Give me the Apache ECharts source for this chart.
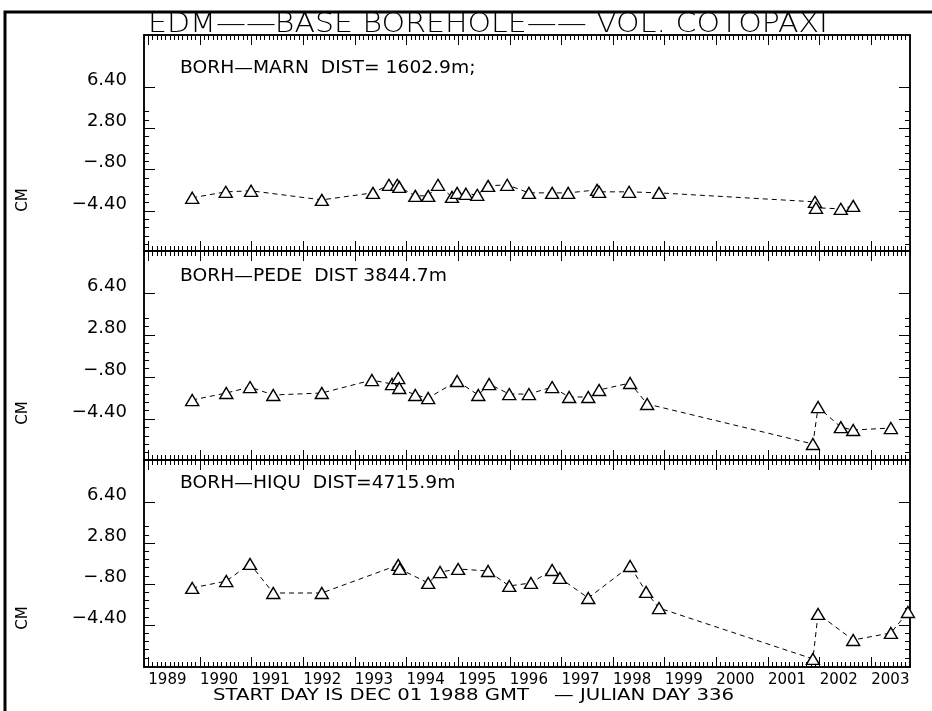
<!DOCTYPE html>
<html>
<head>
    <title>EDM - BASE BOREHOLE - VOL. COTOPAXI</title>
    <meta charset="utf-8"/>
    <script src="https://cdn.jsdelivr.net/npm/echarts@6/dist/echarts.min.js"></script>
</head>
<body style="margin:0;background:#fff">
    <div id="myChart" style="width:932px;height:711px"></div>
<script type="text/javascript">
    // x values are decimal years, the axis starts on DEC 01 1988
    var yearLabels = ['1989', '1990', '1991', '1992', '1993', '1994', '1995', '1996',
        '1997', '1998', '1999', '2000', '2001', '2002', '2003'];
    var yTickValues = [-4.4, -0.8, 2.8, 6.4];
    var yTickLabels = ['\u22124.40', '\u2212.80', '2.80', '6.40'];

    // BORH-MARN
    var marnYears = [1989.85, 1990.50, 1990.99, 1992.36, 1993.35, 1993.66, 1993.82, 1993.86,
        1994.17, 1994.42, 1994.61, 1994.88, 1994.98, 1995.15, 1995.37, 1995.58, 1995.95,
        1996.37, 1996.82, 1997.13, 1997.69, 1997.73, 1998.31, 1998.89, 2001.91, 2001.93,
        2002.41, 2002.65];
    var marnCm = [-3.25, -2.73, -2.64, -3.43, -2.82, -2.12, -2.12, -2.30,
        -3.08, -3.08, -2.12, -3.17, -2.82, -2.90, -2.99, -2.21, -2.12,
        -2.82, -2.82, -2.82, -2.56, -2.73, -2.73, -2.82, -3.60, -4.12,
        -4.21, -3.95];

    // BORH-PEDE
    var pedeYears = [1989.85, 1990.51, 1990.97, 1991.42, 1992.36, 1993.33, 1993.72, 1993.84,
        1993.86, 1994.17, 1994.42, 1994.98, 1995.39, 1995.60, 1995.99, 1996.37, 1996.82,
        1997.15, 1997.52, 1997.73, 1998.33, 1998.66, 2001.87, 2001.97, 2002.41, 2002.65,
        2003.38];
    var pedeCm = [-2.77, -2.17, -1.66, -2.34, -2.17, -1.06, -1.40, -0.89,
        -1.74, -2.34, -2.60, -1.14, -2.34, -1.40, -2.26, -2.26, -1.66,
        -2.51, -2.51, -1.91, -1.31, -3.11, -6.54, -3.37, -5.09, -5.34,
        -5.17];

    // BORH-HIQU
    var hiquYears = [1989.85, 1990.51, 1990.97, 1991.42, 1992.36, 1993.84, 1993.87, 1994.42,
        1994.65, 1995.00, 1995.58, 1995.99, 1996.41, 1996.82, 1996.97, 1997.52, 1998.33,
        1998.64, 1998.89, 2001.87, 2001.97, 2002.65, 2003.38, 2003.71];
    var hiquCm = [-1.15, -0.54, 0.96, -1.59, -1.59, 0.87, 0.52, -0.71,
        0.25, 0.52, 0.34, -0.97, -0.71, 0.43, -0.27, -2.03, 0.78,
        -1.50, -2.91, -7.38, -3.43, -5.72, -5.10, -3.26];

    var panelTitles = ['BORH\u2014MARN  DIST= 1602.9m;', 'BORH\u2014PEDE  DIST 3844.7m',
        'BORH\u2014HIQU  DIST=4715.9m'];

    var X_MIN = 1988 + 11 / 12, X_MAX = 2003.75;
    var layout = [
        {top: 35, height: 216, min: -7.88, max: 10.92, textY: 69, cmY: 200},
        {top: 251, height: 209, min: -7.91, max: 10.0, textY: 277, cmY: 413},
        {top: 460, height: 207, min: -8.09, max: 10.09, textY: 484, cmY: 618}
    ];
    var panels = [
        {years: marnYears, cm: marnCm},
        {years: pedeYears, cm: pedeCm},
        {years: hiquYears, cm: hiquCm}
    ];

    var yearTicks = yearLabels.map(Number);
    var monthTicks = [];
    for (var m = 0; X_MIN + m / 12 <= X_MAX; m++) monthTicks.push(X_MIN + m / 12);

    var FONT = 'DejaVu Sans';

    var xAxisDef = function (gi, pos, ticks, len, withLabels) {
        return {
            type: 'value', gridIndex: gi, position: pos, min: X_MIN, max: X_MAX,
            axisLine: {show: true, onZero: false, lineStyle: {color: '#000', width: 1.5}},
            axisTick: {show: true, inside: true, length: len, customValues: ticks,
                lineStyle: {color: '#000', width: 1}},
            axisLabel: withLabels ? {
                show: true, customValues: yearTicks, align: 'left', margin: 6,
                color: '#000', fontFamily: FONT, fontSize: 15,
                formatter: function (v) { return yearLabels[yearTicks.indexOf(v)] || ''; }
            } : {show: false},
            splitLine: {show: false}
        };
    };
    var yAxisDef = function (gi, pos, ticks, len, withLabels, lo, hi) {
        return {
            type: 'value', gridIndex: gi, position: pos, min: lo, max: hi,
            axisLine: {show: true, onZero: false, lineStyle: {color: '#000', width: 1.5}},
            axisTick: {show: true, inside: true, length: len, customValues: ticks,
                lineStyle: {color: '#000', width: 1}},
            axisLabel: withLabels ? {
                show: true, customValues: yTickValues, margin: 17, verticalAlign: 'bottom',
                lineHeight: 14, color: '#000', fontFamily: FONT, fontSize: 18,
                formatter: function (v) {
                    for (var i = 0; i < yTickValues.length; i++) {
                        if (Math.abs(yTickValues[i] - v) < 1e-6) return yTickLabels[i];
                    }
                    return '';
                }
            } : {show: false},
            splitLine: {show: false}
        };
    };

    var grid = [], xAxis = [], yAxis = [], series = [], graphic = [];

    layout.forEach(function (L, i) {
        grid.push({left: 144, top: L.top, width: 766, height: L.height,
            containLabel: false, outerBoundsMode: 'none'});

        var yMinor = [];
        for (var k = -12; k <= 12; k++) {
            var v = Math.round((-4.4 + k * 0.72) * 100) / 100;
            if (v >= L.min && v <= L.max) yMinor.push(v);
        }

        xAxis.push(xAxisDef(i, 'bottom', yearTicks, 10, i === 2));
        xAxis.push(xAxisDef(i, 'bottom', monthTicks, 5, false));
        xAxis.push(xAxisDef(i, 'top', yearTicks, 10, false));
        xAxis.push(xAxisDef(i, 'top', monthTicks, 5, false));

        yAxis.push(yAxisDef(i, 'left', yTickValues, 11, true, L.min, L.max));
        yAxis.push(yAxisDef(i, 'left', yMinor, 5, false, L.min, L.max));
        yAxis.push(yAxisDef(i, 'right', yTickValues, 11, false, L.min, L.max));
        yAxis.push(yAxisDef(i, 'right', yMinor, 5, false, L.min, L.max));

        var P = panels[i];
        series.push({
            type: 'line',
            xAxisIndex: i * 4,
            yAxisIndex: i * 4,
            data: P.years.map(function (yr, j) { return [yr, P.cm[j]]; }),
            symbol: 'triangle',
            symbolSize: [13, 11],
            showSymbol: true,
            itemStyle: {color: '#fff', borderColor: '#000', borderWidth: 1.4},
            lineStyle: {color: '#000', width: 1, type: [5, 4]},
            z: 5
        });

        graphic.push({
            type: 'text', x: 180, y: L.textY, scaleX: 1.1,
            style: {text: panelTitles[i], x: 0, y: 0, fill: '#000',
                font: '17px "' + FONT + '"', textAlign: 'left', textVerticalAlign: 'middle'}
        });
        graphic.push({
            type: 'text', x: 23, y: L.cmY, rotation: Math.PI / 2,
            style: {text: 'CM', x: 0, y: 0, fill: '#000',
                font: '15px "' + FONT + '"', textAlign: 'center', textVerticalAlign: 'middle'}
        });
    });

    graphic.push({
        type: 'text', x: 488, y: 25, scaleX: 1.11,
        style: {text: 'EDM\u2014\u2014BASE BOREHOLE\u2014\u2014 VOL. COTOPAXI', x: 0, y: 0, fill: '#000',
            font: '300 27px "' + FONT + '"', textAlign: 'center', textVerticalAlign: 'middle'}
    });
    graphic.push({
        type: 'text', x: 213, y: 696, scaleX: 1.23,
        style: {text: 'START DAY IS DEC 01 1988 GMT    \u2014 JULIAN DAY 336', x: 0, y: 0, fill: '#000',
            font: '16px "' + FONT + '"', textAlign: 'left', textVerticalAlign: 'middle'}
    });
    graphic.push({
        type: 'rect', shape: {x: 5, y: 12, width: 940, height: 720},
        style: {fill: 'none', stroke: '#000', lineWidth: 3}
    });

    var myChart = echarts.init(document.getElementById('myChart'));
    myChart.setOption({
        animation: false,
        backgroundColor: '#fff',
        textStyle: {fontFamily: FONT},
        grid: grid,
        xAxis: xAxis,
        yAxis: yAxis,
        series: series,
        graphic: graphic
    });
</script>
</body>
</html>
